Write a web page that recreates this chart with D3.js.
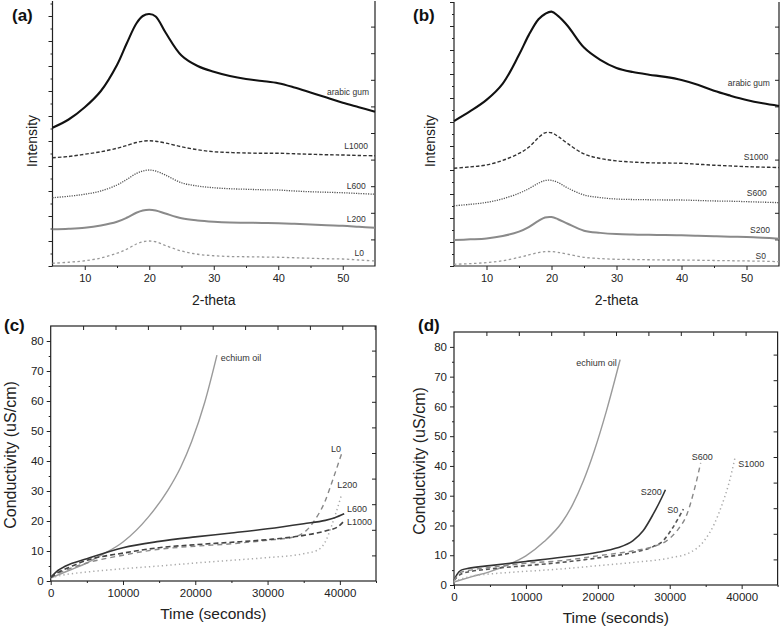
<!DOCTYPE html>
<html>
<head>
<meta charset="utf-8">
<script src="https://cdnjs.cloudflare.com/ajax/libs/d3/7.8.5/d3.min.js"></script>
<style>
  body { margin: 0; background: #fff; }
  svg { display: block; font-family: "Liberation Sans", Arial, sans-serif; }
</style>
</head>
<body>
<svg id="fig" width="781" height="627"></svg>
<script>
// XRD patterns (a, b) and conductivity curves (c, d), 2x2 figure.

// ---- XRD data (intensity in arbitrary units) ----
const twoTheta = [5, 7.5, 10, 12.5, 15, 16.5, 18, 19, 20, 21, 22.5, 25, 27.5, 30, 32.5, 35, 37.5, 40, 42.5, 45, 47.5, 50, 52.5, 55];
const xrdTicks = [10, 20, 30, 40, 50];

const gumA  = [5.53, 5.86, 6.35, 7.0, 8.04, 8.9, 9.7, 10.0, 10.08, 9.98, 9.35, 8.42, 8.0, 7.77, 7.6, 7.48, 7.4, 7.31, 7.14, 6.94, 6.74, 6.53, 6.35, 6.17];
const l1000A = [4.33, 4.38, 4.47, 4.57, 4.71, 4.82, 4.94, 4.99, 5.01, 4.99, 4.92, 4.77, 4.65, 4.57, 4.54, 4.52, 4.51, 4.51, 4.49, 4.47, 4.45, 4.44, 4.42, 4.41];
const l600A  = [2.73, 2.79, 2.87, 3.0, 3.24, 3.46, 3.7, 3.8, 3.84, 3.8, 3.64, 3.33, 3.2, 3.13, 3.09, 3.07, 3.05, 3.04, 3.0, 2.97, 2.95, 2.93, 2.9, 2.87];
const l200A  = [1.47, 1.49, 1.53, 1.62, 1.77, 1.93, 2.13, 2.22, 2.25, 2.22, 2.1, 1.91, 1.82, 1.77, 1.74, 1.73, 1.72, 1.71, 1.69, 1.66, 1.63, 1.61, 1.57, 1.53];
const l0A    = [0.11, 0.15, 0.21, 0.32, 0.51, 0.67, 0.88, 0.97, 1.0, 0.97, 0.82, 0.6, 0.47, 0.41, 0.38, 0.37, 0.36, 0.35, 0.33, 0.31, 0.29, 0.28, 0.24, 0.2];

const gumB   = [6.04, 6.45, 6.92, 7.6, 8.8, 9.62, 10.28, 10.5, 10.6, 10.42, 10.0, 9.1, 8.59, 8.25, 8.08, 7.97, 7.88, 7.75, 7.55, 7.3, 7.1, 6.92, 6.78, 6.67];
const s1000B = [4.07, 4.13, 4.21, 4.4, 4.69, 4.95, 5.35, 5.55, 5.55, 5.4, 5.1, 4.67, 4.48, 4.38, 4.33, 4.3, 4.29, 4.28, 4.24, 4.2, 4.17, 4.14, 4.12, 4.1];
const s600B  = [2.51, 2.57, 2.65, 2.8, 3.03, 3.22, 3.45, 3.56, 3.57, 3.48, 3.25, 2.96, 2.85, 2.79, 2.77, 2.76, 2.75, 2.75, 2.73, 2.71, 2.7, 2.68, 2.66, 2.64];
const s200B  = [1.08, 1.11, 1.15, 1.25, 1.43, 1.62, 1.88, 2.02, 2.04, 1.95, 1.76, 1.47, 1.38, 1.33, 1.31, 1.3, 1.29, 1.28, 1.26, 1.24, 1.22, 1.21, 1.18, 1.14];
const s0B    = [0.07, 0.1, 0.14, 0.22, 0.36, 0.46, 0.56, 0.6, 0.6, 0.57, 0.49, 0.36, 0.31, 0.28, 0.27, 0.26, 0.25, 0.25, 0.24, 0.23, 0.22, 0.21, 0.2, 0.18];

// ---- conductivity data (uS/cm vs seconds) ----
const timeTicks = [0, 10000, 20000, 30000, 40000];
const condTicks = [0, 10, 20, 30, 40, 50, 60, 70, 80];

const echiumTC = [0, 2500, 5000, 7000, 10000, 13500, 16200, 18000, 19500, 21300, 23000];
const echiumC  = [1, 3.5, 6, 8.6, 13, 21.3, 30.2, 38, 46.5, 59.5, 75.3];
const l600TC = [0, 1000, 2000, 5000, 10000, 15000, 20000, 25000, 30000, 35000, 38000, 39300, 40600];
const l600C  = [1.2, 3.5, 4.9, 7.4, 11.1, 13.2, 14.7, 16, 17.4, 19.1, 20.2, 21.1, 22.4];
const l1000TC = [0, 1000, 2500, 5000, 10000, 15000, 20000, 25000, 30000, 35000, 38000, 39800, 40500];
const l1000C  = [1.2, 2.8, 4.5, 6.9, 9.3, 11.1, 12.1, 12.9, 13.8, 15.2, 16.7, 18.2, 19.8];
const l0TC = [0, 1000, 2500, 5000, 10000, 15000, 20000, 25000, 30000, 33700, 35400, 36500, 37900, 39000, 40400];
const l0C  = [1.2, 2.5, 4, 6.0, 8.6, 10.6, 11.6, 12.4, 13.6, 14.7, 16.9, 20.2, 26.3, 33.6, 43.6];
const l200TC = [0, 2500, 5000, 10000, 15000, 20000, 25000, 30000, 35000, 37000, 38100, 38800, 39500, 40200];
const l200C  = [1.1, 2.3, 3.0, 4.1, 5.0, 6.0, 6.9, 7.8, 9.1, 10.4, 13.6, 18, 23, 28.5];

const echiumTD = [0, 2500, 5000, 7500, 10000, 12500, 15000, 16500, 18000, 19500, 21200, 23100];
const echiumD  = [1, 2.8, 4.5, 6.8, 9.8, 14.5, 21, 27, 35, 45, 58.5, 75.7];
const s200TD = [0, 400, 1000, 2000, 5000, 10000, 15000, 20000, 22600, 24900, 26300, 27700, 28900, 29400];
const s200D  = [1.5, 3.5, 5.0, 5.6, 6.5, 7.9, 9.3, 11, 12.4, 14.9, 18.2, 23.8, 29.4, 32];
const s0TD = [0, 1000, 2500, 5000, 10000, 15000, 20000, 25000, 27700, 29100, 30300, 31400, 31900];
const s0D  = [1.5, 3.7, 4.6, 5.4, 6.5, 7.6, 9.1, 11, 12.9, 14.9, 18.8, 23.3, 25.5];
const s600TD = [0, 1000, 2500, 5000, 10000, 15000, 20000, 25000, 27700, 29600, 31000, 32400, 33500, 34300];
const s600D  = [1.5, 4.3, 5.1, 5.9, 7.3, 8.2, 9.8, 11.5, 12.9, 14.9, 18.2, 23.8, 32.8, 41];
const s1000TD = [0, 2500, 5000, 10000, 15000, 20000, 25000, 30000, 32900, 34800, 36200, 37300, 38200, 39100];
const s1000D  = [1.2, 3.0, 3.7, 4.6, 5.4, 6.5, 7.6, 9.1, 11, 14.9, 20.5, 27.2, 33.9, 43];

const svg = d3.select("#fig");
const ink = "#222";

function cleanAxis(sel) {
  sel.select(".domain").remove();
  sel.selectAll("line").attr("stroke", ink);
  sel.selectAll("text").attr("fill", ink);
}

function tickAxis(g, axis, tx, ty) {
  return g.append("g").attr("transform", `translate(${tx},${ty})`).call(axis).call(cleanAxis);
}

function drawLines(g, x, y, series, curve) {
  series.forEach(s => {
    const pts = s.t.map((t, i) => [t, s.v[i]]);
    g.append("path")
      .datum(pts)
      .attr("fill", "none")
      .attr("stroke", s.color)
      .attr("stroke-width", s.width)
      .attr("stroke-dasharray", s.dash || null)
      .attr("d", d3.line().x(d => x(d[0])).y(d => y(d[1])).curve(curve));
    g.append("text")
      .attr("x", x(s.lab[0]))
      .attr("y", y(s.lab[1]))
      .attr("text-anchor", s.anchor || "start")
      .attr("font-size", s.fs)
      .attr("fill", "#333")
      .text(s.name);
  });
}

function xrdPanel(p) {
  const g = svg.append("g");
  const x = d3.scaleLinear().domain([5, 55]).range([p.left, p.right]);
  const y = d3.scaleLinear().domain([0, p.yMax]).range([p.bottom, p.top]);
  const yR = d3.scaleLinear().domain([0, (p.bottom - p.top) / p.rStep]).range([p.bottom, p.top]);

  const yMaj = d3.range(0, p.yMax + 0.01, 1);
  const yMin = d3.range(0.5, p.yMax, 1);
  tickAxis(g, d3.axisLeft(y).tickValues(yMaj).tickSize(4).tickFormat(() => ""), p.left, 0);
  tickAxis(g, d3.axisLeft(y).tickValues(yMin).tickSize(2).tickFormat(() => ""), p.left, 0);
  tickAxis(g, d3.axisRight(yR).tickValues(d3.range(1, yR.domain()[1], 1)).tickSize(-4).tickFormat(() => ""), p.right, 0);

  const xb = tickAxis(g, d3.axisBottom(x).tickValues(xrdTicks).tickSize(4).tickPadding(4), 0, p.bottom);
  xb.selectAll("text").attr("font-size", 11);
  tickAxis(g, d3.axisBottom(x).tickValues([15, 25, 35, 45]).tickSize(2).tickFormat(() => ""), 0, p.bottom);

  g.append("path")
    .attr("d", `M${p.left},${p.top}V${p.bottom}H${p.right}V${p.top}`)
    .attr("fill", "none").attr("stroke", ink).attr("stroke-width", 1.2);

  drawLines(g, x, y, p.series.map(s => ({ ...s, t: twoTheta })), d3.curveCatmullRom);

  g.append("text").attr("x", (p.left + p.right) / 2).attr("y", 305)
    .attr("text-anchor", "middle").attr("font-size", 14).attr("fill", ink).text("2-theta");
  g.append("text").attr("transform", `translate(${p.yLabX},141) rotate(-90)`)
    .attr("text-anchor", "middle").attr("font-size", 14).attr("fill", ink).text("Intensity");
  g.append("text").attr("x", p.tagX).attr("y", 21)
    .attr("font-size", 17).attr("font-weight", "bold").attr("fill", "#111").text(p.tag);
}

function condPanel(p) {
  const g = svg.append("g");
  const x = d3.scaleLinear().domain([0, 45000]).range([p.left, p.right]);
  const y = d3.scaleLinear().domain([0, 85]).range([p.bottom, p.top]);
  const yR = d3.scaleLinear().domain([0, (p.bottom - p.top) / 25.6]).range([p.bottom, p.top]);
  const xT = d3.scaleLinear().domain([0, (p.right - p.left) / 32.4]).range([p.left, p.right]);

  const yl = tickAxis(g, d3.axisLeft(y).tickValues(condTicks).tickSize(4).tickPadding(3), p.left, 0);
  yl.selectAll("text").attr("font-size", 11.5);
  tickAxis(g, d3.axisLeft(y).tickValues(d3.range(5, 85, 10)).tickSize(2).tickFormat(() => ""), p.left, 0);
  const xb = tickAxis(g, d3.axisBottom(x).tickValues(timeTicks).tickFormat(d3.format("d")).tickSize(4).tickPadding(4), 0, p.bottom);
  xb.selectAll("text").attr("font-size", 11.5);
  tickAxis(g, d3.axisBottom(x).tickValues([5000, 15000, 25000, 35000, 45000]).tickSize(2).tickFormat(() => ""), 0, p.bottom);
  tickAxis(g, d3.axisRight(yR).tickValues(d3.range(1, yR.domain()[1], 1)).tickSize(-4).tickFormat(() => ""), p.right, 0);
  tickAxis(g, d3.axisTop(xT).tickValues(d3.range(1, xT.domain()[1], 1)).tickSize(-4).tickFormat(() => ""), 0, p.top);

  g.append("rect")
    .attr("x", p.left).attr("y", p.top)
    .attr("width", p.right - p.left).attr("height", p.bottom - p.top)
    .attr("fill", "none").attr("stroke", ink).attr("stroke-width", 1.2);

  drawLines(g, x, y, p.series, d3.curveMonotoneX);

  g.append("text").attr("x", (p.left + p.right) / 2).attr("y", p.xLabY)
    .attr("text-anchor", "middle").attr("font-size", 15.5).attr("fill", ink).text("Time (seconds)");
  g.append("text").attr("transform", `translate(${p.yLabX},${p.yLabY}) rotate(-90)`)
    .attr("text-anchor", "middle").attr("font-size", 16).attr("fill", ink).text("Conductivity (uS/cm)");
  g.append("text").attr("x", p.tagX).attr("y", 331)
    .attr("font-size", 17).attr("font-weight", "bold").attr("fill", "#111").text(p.tag);
}

const fsX = 8.5;
xrdPanel({
  tag: "(a)", tagX: 12, left: 52.5, right: 375, top: 1, bottom: 266, yMax: 10.6, rStep: 26.6, yLabX: 36.5,
  series: [
    { name: "arabic gum", v: gumA,   color: "#111",    width: 2.1, lab: [54.07, 6.84], anchor: "end", fs: fsX },
    { name: "L1000",      v: l1000A, color: "#333",    width: 1.4, dash: "3.5,2", lab: [53.9, 4.68], anchor: "end", fs: fsX },
    { name: "L600",       v: l600A,  color: "#555",    width: 1.3, dash: "1.2,1.2", lab: [53.56, 3.08], anchor: "end", fs: fsX },
    { name: "L200",       v: l200A,  color: "#8a8a8a", width: 2,   lab: [53.56, 1.76], anchor: "end", fs: fsX },
    { name: "L0",         v: l0A,    color: "#999",    width: 1.3, dash: "2.5,2.5", lab: [53.3, 0.4], anchor: "end", fs: fsX }
  ]
});
xrdPanel({
  tag: "(b)", tagX: 413, left: 454, right: 779, top: 2, bottom: 266, yMax: 11, rStep: 26.6, yLabX: 435,
  series: [
    { name: "arabic gum", v: gumB,   color: "#111",    width: 2.1, lab: [53.6, 7.5], anchor: "end", fs: fsX },
    { name: "S1000",      v: s1000B, color: "#333",    width: 1.4, dash: "3.5,2", lab: [53.35, 4.42], anchor: "end", fs: fsX },
    { name: "S600",       v: s600B,  color: "#555",    width: 1.3, dash: "1.2,1.2", lab: [53.1, 2.92], anchor: "end", fs: fsX },
    { name: "S200",       v: s200B,  color: "#8a8a8a", width: 2,   lab: [53.6, 1.375], anchor: "end", fs: fsX },
    { name: "S0",         v: s0B,    color: "#999",    width: 1.3, dash: "2.5,2.5", lab: [53.0, 0.29], anchor: "end", fs: fsX }
  ]
});

const fsC = 9;
condPanel({
  tag: "(c)", tagX: 4, left: 50.7, right: 376, top: 326, bottom: 581, xLabY: 619, yLabX: 16, yLabY: 455,
  series: [
    { name: "echium oil", t: echiumTC, v: echiumC, color: "#9a9a9a", width: 1.4, lab: [23520, 73.2], fs: fsC },
    { name: "L0",    t: l0TC,    v: l0C,    color: "#888", width: 1.4, dash: "5,4",   lab: [38770, 42.9], fs: fsC },
    { name: "L200",  t: l200TC,  v: l200C,  color: "#aaa", width: 1.5, dash: "1.3,3", lab: [39650, 31.0], fs: fsC },
    { name: "L600",  t: l600TC,  v: l600C,  color: "#333", width: 1.6, lab: [40990, 22.9], fs: fsC },
    { name: "L1000", t: l1000TC, v: l1000C, color: "#444", width: 1.6, dash: "5,3",   lab: [40990, 18.8], fs: fsC }
  ]
});
condPanel({
  tag: "(d)", tagX: 418, left: 454, right: 777.6, top: 332, bottom: 585, xLabY: 623, yLabX: 425, yLabY: 461,
  series: [
    { name: "echium oil", t: echiumTD, v: echiumD, color: "#9a9a9a", width: 1.4, lab: [22630, 73.5], anchor: "end", fs: fsC },
    { name: "S200",  t: s200TD,  v: s200D,  color: "#333", width: 1.6, lab: [25960, 30.3], fs: fsC },
    { name: "S0",    t: s0TD,    v: s0D,    color: "#555", width: 1.6, dash: "4,3",   lab: [29660, 24.2], fs: fsC },
    { name: "S600",  t: s600TD,  v: s600D,  color: "#888", width: 1.4, dash: "5,4",   lab: [33060, 42.1], fs: fsC },
    { name: "S1000", t: s1000TD, v: s1000D, color: "#aaa", width: 1.5, dash: "1.3,3", lab: [39540, 39.7], fs: fsC }
  ]
});
</script>
</body>
</html>
